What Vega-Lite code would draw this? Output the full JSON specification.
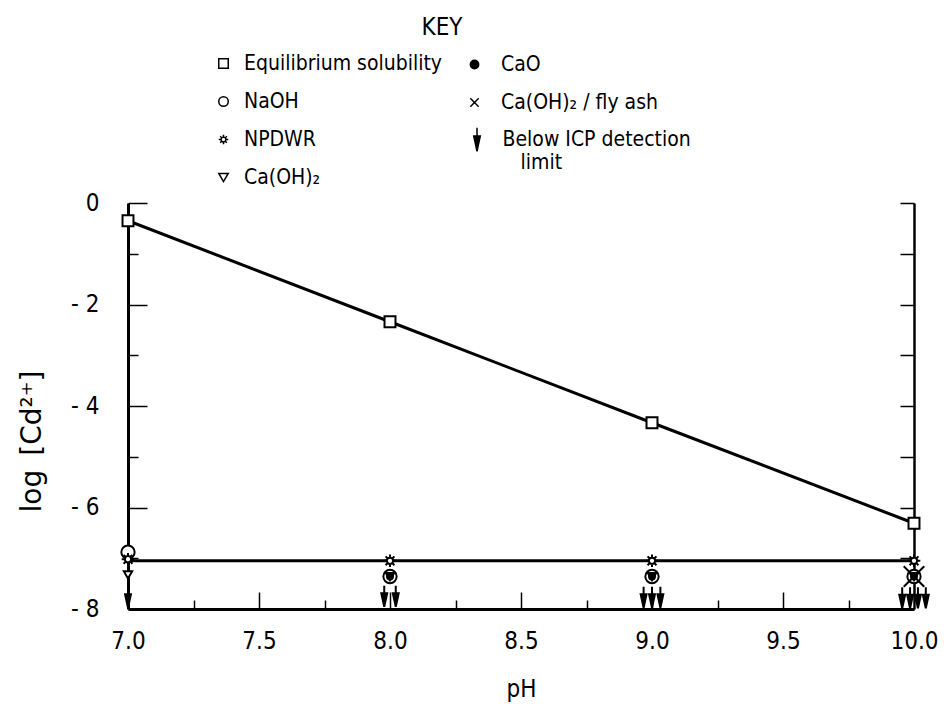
{
  "$schema": "https://vega.github.io/schema/vega-lite/v6.json",
  "width": 786,
  "height": 406,
  "autosize": {"type": "none"},
  "padding": {"left": 128, "top": 203, "right": 32, "bottom": 95},
  "background": "white",
  "config": {
    "font": "DejaVu Sans Condensed, DejaVu Sans, sans-serif",
    "view": {"stroke": null},
    "axis": {
      "labelFontSize": 24,
      "titleFontSize": 24,
      "titleFontWeight": "normal",
      "labelColor": "black",
      "titleColor": "black",
      "domainColor": "black",
      "tickColor": "black",
      "domainWidth": 3,
      "tickWidth": 1.5,
      "grid": false,
      "labelFlush": false,
      "labelOverlap": false
    },
    "legend": {
      "orient": "none",
      "direction": "vertical",
      "padding": 0,
      "titleFontSize": 24,
      "titleFontWeight": "normal",
      "titleColor": "black",
      "labelFontSize": 21,
      "labelColor": "black",
      "labelLimit": 400,
      "symbolStrokeWidth": 1.5,
      "rowPadding": 16
    }
  },
  "datasets": {
    "eq": [
      {"pH": 7.0, "logCd": -0.35},
      {"pH": 8.0, "logCd": -2.34},
      {"pH": 9.0, "logCd": -4.33},
      {"pH": 10.0, "logCd": -6.31}
    ],
    "npdwr": [
      {"pH": 7.0, "logCd": -7.05},
      {"pH": 8.0, "logCd": -7.05},
      {"pH": 9.0, "logCd": -7.05},
      {"pH": 10.0, "logCd": -7.05}
    ],
    "openMarkers": [
      {"series": "Equilibrium solubility", "pH": 7.0, "logCd": -0.35},
      {"series": "Equilibrium solubility", "pH": 8.0, "logCd": -2.34},
      {"series": "Equilibrium solubility", "pH": 9.0, "logCd": -4.33},
      {"series": "Equilibrium solubility", "pH": 10.0, "logCd": -6.31},
      {"series": "NaOH", "pH": 7.0, "logCd": -6.88},
      {"series": "NaOH", "pH": 8.0, "logCd": -7.36},
      {"series": "NaOH", "pH": 9.0, "logCd": -7.36},
      {"series": "NaOH", "pH": 10.0, "logCd": -7.36},
      {"series": "Ca(OH)₂", "pH": 7.0, "logCd": -7.33},
      {"series": "Ca(OH)₂", "pH": 8.0, "logCd": -7.36},
      {"series": "Ca(OH)₂", "pH": 9.0, "logCd": -7.36},
      {"series": "Ca(OH)₂", "pH": 10.0, "logCd": -7.36},
      {"series": "NPDWR", "pH": 7.0, "logCd": -7.02},
      {"series": "NPDWR", "pH": 8.0, "logCd": -7.05},
      {"series": "NPDWR", "pH": 9.0, "logCd": -7.05},
      {"series": "NPDWR", "pH": 10.0, "logCd": -7.05}
    ],
    "solidMarkers": [
      {"series": "CaO", "pH": 8.0, "logCd": -7.36},
      {"series": "CaO", "pH": 9.0, "logCd": -7.36},
      {"series": "CaO", "pH": 10.0, "logCd": -7.36},
      {"series": "Ca(OH)₂ / fly ash", "pH": 10.0, "logCd": -7.36}
    ],
    "arrows": [
      {"series": "Below ICP detection limit", "pH": 7.0, "logCd": -7.77},
      {"series": "Below ICP detection limit", "pH": 7.978, "logCd": -7.75},
      {"series": "Below ICP detection limit", "pH": 8.022, "logCd": -7.75},
      {"series": "Below ICP detection limit", "pH": 8.968, "logCd": -7.77},
      {"series": "Below ICP detection limit", "pH": 9.0, "logCd": -7.77},
      {"series": "Below ICP detection limit", "pH": 9.032, "logCd": -7.77},
      {"series": "Below ICP detection limit", "pH": 9.955, "logCd": -7.78},
      {"series": "Below ICP detection limit", "pH": 9.985, "logCd": -7.78},
      {"series": "Below ICP detection limit", "pH": 10.015, "logCd": -7.78},
      {"series": "Below ICP detection limit", "pH": 10.045, "logCd": -7.78}
    ]
  },
  "resolve": {
    "axis": {"x": "independent", "y": "independent"},
    "scale": {"shape": "independent", "size": "independent", "stroke": "independent"},
    "legend": {"shape": "independent", "size": "independent", "stroke": "independent"}
  },
  "layer": [
    {
      "data": {"name": "eq"},
      "mark": {"type": "line", "color": "black", "strokeWidth": 3},
      "encoding": {
        "x": {
          "field": "pH", "type": "quantitative",
          "scale": {"domain": [7, 10], "nice": false, "zero": false},
          "axis": {
            "orient": "bottom",
            "values": [7, 7.5, 8, 8.5, 9, 9.5, 10],
            "format": ".1f",
            "ticks": false,
            "tickSize": 0,
            "labelPadding": 20,
            "title": "pH",
            "titlePadding": 24
          }
        },
        "y": {
          "field": "logCd", "type": "quantitative",
          "scale": {"domain": [-8, 0], "nice": false, "zero": false},
          "axis": {
            "orient": "left",
            "values": [-8, -6, -4, -2, 0],
            "labelExpr": "datum.value == 0 ? '0' : '- ' + abs(datum.value)",
            "ticks": false,
            "tickSize": 0,
            "labelPadding": 29,
            "title": "log\u2002[Cd²⁺]",
            "titleFont": "DejaVu Sans, sans-serif",
            "titleFontSize": 28,
            "titlePadding": 24,
            "titleY": 238
          }
        }
      }
    },
    {
      "data": {"name": "npdwr"},
      "mark": {"type": "line", "color": "black", "strokeWidth": 3},
      "encoding": {
        "x": {
          "field": "pH", "type": "quantitative",
          "axis": {
            "orient": "top",
            "offset": -406,
            "values": [7.5, 8, 8.5, 9, 9.5],
            "tickSize": 17,
            "labels": false,
            "domain": false,
            "title": null
          }
        },
        "y": {
          "field": "logCd", "type": "quantitative",
          "axis": {
            "orient": "right",
            "offset": -786,
            "values": [-8, -6, -4, -2, 0],
            "tickSize": 19,
            "labels": false,
            "domain": false,
            "title": null
          }
        }
      }
    },
    {
      "data": {"name": "openMarkers"},
      "mark": {"type": "point", "fill": "white", "strokeWidth": 2, "opacity": 1, "fillOpacity": 1, "strokeOpacity": 1},
      "encoding": {
        "x": {
          "field": "pH", "type": "quantitative",
          "axis": {
            "orient": "top",
            "offset": -406,
            "values": [7.25, 7.75, 8.25, 8.75, 9.25, 9.75],
            "tickSize": 9,
            "labels": false,
            "domain": false,
            "title": null
          }
        },
        "y": {
          "field": "logCd", "type": "quantitative",
          "axis": {
            "orient": "right",
            "offset": -786,
            "values": [-7, -5, -3, -1],
            "tickSize": 10,
            "labels": false,
            "domain": false,
            "title": null
          }
        },
        "shape": {
          "field": "series", "type": "nominal",
          "scale": {
            "domain": ["Equilibrium solubility", "NaOH", "NPDWR", "Ca(OH)₂"],
            "range": [
              "square",
              "circle",
              "M0.5,0A0.5,0.5,0,1,1,-0.5,0A0.5,0.5,0,1,1,0.5,0ZM0,-0.62L0,-1M0,0.62L0,1M0.62,0L1,0M-0.62,0L-1,0M0.44,0.44L0.7,0.7M-0.44,-0.44L-0.7,-0.7M0.44,-0.44L0.7,-0.7M-0.44,0.44L-0.7,0.7",
              "triangle-down"
            ]
          },
          "legend": {
            "title": "KEY",
            "legendX": 85,
            "legendY": -187,
            "titleAnchor": "end",
            "titleAlign": "center",
            "titlePadding": 13,
            "labelOffset": 10,
            "symbolSize": 90
          }
        },
        "stroke": {
          "field": "series", "type": "nominal",
          "scale": {
            "domain": ["Equilibrium solubility", "NaOH", "NPDWR", "Ca(OH)₂"],
            "range": ["black", "black", "black", "black"]
          },
          "legend": {
            "title": "KEY",
            "legendX": 85,
            "legendY": -187
          }
        },
        "size": {
          "field": "series", "type": "nominal",
          "scale": {
            "type": "ordinal",
            "domain": ["Ca(OH)₂", "Equilibrium solubility", "NaOH", "NPDWR"],
            "range": [70, 120, 177, 160]
          },
          "legend": null
        }
      }
    },
    {
      "data": {"name": "solidMarkers"},
      "mark": {"type": "point", "fill": "black", "strokeWidth": 2, "opacity": 1, "fillOpacity": 1, "strokeOpacity": 1},
      "encoding": {
        "x": {"field": "pH", "type": "quantitative", "axis": null},
        "y": {
          "field": "logCd", "type": "quantitative",
          "axis": {
            "orient": "left",
            "offset": -786,
            "values": [-8, -7, -6, -5, -4, -3, -2, -1, 0],
            "tickSize": 14,
            "labels": false,
            "domainWidth": 2.5,
            "title": null
          }
        },
        "shape": {
          "field": "series", "type": "nominal",
          "scale": {
            "domain": ["CaO", "Ca(OH)₂ / fly ash"],
            "range": ["circle", "M-1,-1L1,1M1,-1L-1,1"]
          },
          "legend": {
            "title": null,
            "legendX": 336,
            "legendY": -149,
            "labelOffset": 16,
            "symbolSize": 70
          }
        },
        "stroke": {
          "field": "series", "type": "nominal",
          "scale": {
            "domain": ["CaO", "Ca(OH)₂ / fly ash"],
            "range": ["black", "black"]
          },
          "legend": {
            "title": null,
            "legendX": 336,
            "legendY": -149
          }
        },
        "size": {
          "field": "series", "type": "nominal",
          "scale": {
            "type": "ordinal",
            "domain": ["Ca(OH)₂ / fly ash", "CaO"],
            "range": [420, 35]
          },
          "legend": null
        }
      }
    },
    {
      "data": {"name": "arrows"},
      "mark": {"type": "point", "fill": "black", "strokeWidth": 2, "size": 440, "opacity": 1, "fillOpacity": 1, "strokeOpacity": 1},
      "encoding": {
        "x": {"field": "pH", "type": "quantitative", "axis": null},
        "y": {"field": "logCd", "type": "quantitative", "axis": null},
        "shape": {
          "field": "series", "type": "nominal",
          "scale": {
            "domain": ["Below ICP detection limit"],
            "range": ["M0,-1L0,-0.3M-0.28,-0.3L0.28,-0.3L0,1Z"]
          },
          "legend": {
            "title": null,
            "legendX": 336.5,
            "legendY": -76,
            "labelOffset": 13,
            "symbolSize": 550,
            "labelExpr": "datum.label == 'Below ICP detection limit' ? ['Below ICP detection', '\u200b\u00a0\u00a0\u00a0limit'] : datum.label"
          }
        },
        "stroke": {
          "field": "series", "type": "nominal",
          "scale": {
            "domain": ["Below ICP detection limit"],
            "range": ["black"]
          },
          "legend": {
            "title": null,
            "legendX": 336.5,
            "legendY": -76
          }
        }
      }
    }
  ]
}
